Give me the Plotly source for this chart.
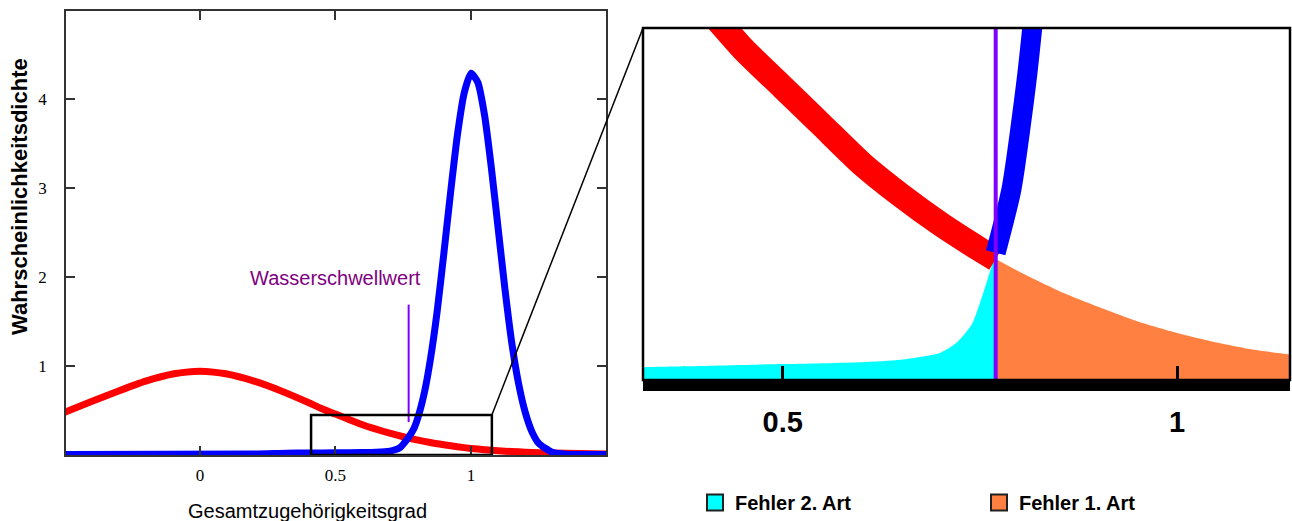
import plotly.graph_objects as go

# water threshold on the membership axis
threshold = 0.77

# red density (non-water class)
x_red = [-0.5, -0.4, -0.3, -0.2, -0.1, 0.0, 0.1, 0.2, 0.3, 0.4, 0.45, 0.5, 0.55, 0.6, 0.65,
         0.7, 0.75, 0.77, 0.8, 0.85, 0.9, 0.95, 1.0, 1.05, 1.1, 1.15, 1.2, 1.3, 1.4, 1.5]
y_red = [0.48, 0.60, 0.72, 0.83, 0.91, 0.94, 0.91, 0.83, 0.72, 0.59, 0.52, 0.46, 0.40, 0.34, 0.29,
         0.245, 0.205, 0.19, 0.17, 0.14, 0.115, 0.092, 0.074, 0.059, 0.047, 0.039, 0.032, 0.022, 0.016, 0.012]

# blue density (water class)
x_blue = [-0.5, 0.2, 0.32, 0.4, 0.5, 0.6, 0.65, 0.7, 0.72, 0.74, 0.755, 0.77, 0.79, 0.81, 0.83,
          0.85, 0.875, 0.9, 0.925, 0.95, 0.975, 1.0, 1.025, 1.05, 1.075, 1.1, 1.125, 1.15, 1.175,
          1.2, 1.225, 1.25, 1.3, 1.35, 1.5]
y_blue = [0.005, 0.01, 0.02, 0.022, 0.025, 0.028, 0.032, 0.043, 0.058, 0.088, 0.14, 0.20, 0.30, 0.48, 0.73,
          1.07, 1.61, 2.27, 2.96, 3.60, 4.07, 4.29, 4.19, 3.82, 3.23, 2.55, 1.87, 1.27, 0.81,
          0.48, 0.26, 0.13, 0.03, 0.008, 0.005]

marker_y = [0.37, 1.69]          # short threshold marker in the overview
label_xy = [0.5, 1.99]           # "Wasserschwellwert"
zoom_box_x = [0.41, 1.077]
zoom_box_y = [0.0, 0.45]
left_range_x = [-0.494, 1.498]
left_range_y = [0.0, 4.99]
zoom_range_x = [0.323, 1.143]
zoom_range_y = [0.0, 0.553]
left_ticks_x = [0, 0.5, 1]
left_ticks_y = [1, 2, 3, 4]
zoom_ticks_x = [0.5, 1]

W, H = 1292, 521


def fx(p):
    return p / W


def fy(p):
    return 1 - p / H


left_dom_x = [fx(66), fx(606)]
left_dom_y = [fy(455), fy(11)]
right_dom_x = [fx(643), fx(1290)]
right_dom_y = [fy(380), fy(28)]

RED = '#ff0000'
BLUE = '#0000ff'
CYAN = '#00ffff'
ORANGE = '#ff8040'
VIOLET = '#8000ff'
sans = 'Liberation Sans, Arial, sans-serif'
serif = 'Liberation Serif, Times New Roman, serif'

left_x = [(x, y) for x, y in zip(x_blue, y_blue) if x <= threshold]
right_x_red = [(x, y) for x, y in zip(x_red, y_red) if x >= threshold]
left_x_red = [(x, y) for x, y in zip(x_red, y_red) if x <= threshold]
right_x_blue = [(x, y) for x, y in zip(x_blue, y_blue) if x >= threshold]

fig = go.Figure()

# overview
fig.add_trace(go.Scatter(x=x_red, y=y_red, mode='lines', line=dict(color=RED, width=7, shape='spline', smoothing=0.6),
                         xaxis='x', yaxis='y', showlegend=False))
fig.add_trace(go.Scatter(x=x_blue, y=y_blue, mode='lines', line=dict(color=BLUE, width=7, shape='spline', smoothing=0.6),
                         xaxis='x', yaxis='y', showlegend=False))
fig.add_trace(go.Scatter(x=[threshold, threshold], y=marker_y, mode='lines', line=dict(color=VIOLET, width=2),
                         xaxis='x', yaxis='y', showlegend=False))

# zoomed view
fig.add_trace(go.Scatter(x=[p[0] for p in left_x], y=[p[1] for p in left_x], mode='lines', fill='tozeroy',
                         fillcolor=CYAN, line=dict(width=0, shape='spline', smoothing=0.6),
                         xaxis='x2', yaxis='y2', showlegend=False))
fig.add_trace(go.Scatter(x=[p[0] for p in right_x_red], y=[p[1] for p in right_x_red], mode='lines', fill='tozeroy',
                         fillcolor=ORANGE, line=dict(width=0, shape='spline', smoothing=0.6),
                         xaxis='x2', yaxis='y2', showlegend=False))
fig.add_trace(go.Scatter(x=[p[0] for p in left_x_red], y=[p[1] for p in left_x_red], mode='lines',
                         line=dict(color=RED, width=25, shape='spline', smoothing=0.6),
                         xaxis='x2', yaxis='y2', showlegend=False))
fig.add_trace(go.Scatter(x=[p[0] for p in right_x_blue], y=[p[1] for p in right_x_blue], mode='lines',
                         line=dict(color=BLUE, width=20, shape='spline', smoothing=0.6),
                         xaxis='x2', yaxis='y2', showlegend=False))
fig.add_trace(go.Scatter(x=[threshold, threshold], y=zoom_range_y, mode='lines', line=dict(color=VIOLET, width=4),
                         xaxis='x2', yaxis='y2', showlegend=False))

# legend entries
fig.add_trace(go.Scatter(x=[None], y=[None], mode='markers', name='Fehler 2. Art',
                         marker=dict(symbol='square', size=22, color=CYAN, line=dict(color='#202020', width=2)),
                         xaxis='x2', yaxis='y2'))
fig.add_trace(go.Scatter(x=[None], y=[None], mode='markers', name='Fehler 1. Art',
                         marker=dict(symbol='square', size=22, color=ORANGE, line=dict(color='#202020', width=2)),
                         xaxis='x2', yaxis='y2'))

# zoom box and connector
fig.add_shape(type='rect', xref='x', yref='y', x0=zoom_box_x[0], x1=zoom_box_x[1], y0=zoom_box_y[0], y1=zoom_box_y[1],
              line=dict(color='black', width=2.5))
px = left_dom_x[0] + (zoom_box_x[1] - left_range_x[0]) / (left_range_x[1] - left_range_x[0]) * (left_dom_x[1] - left_dom_x[0])
py = left_dom_y[0] + (zoom_box_y[1] - left_range_y[0]) / (left_range_y[1] - left_range_y[0]) * (left_dom_y[1] - left_dom_y[0])
fig.add_shape(type='line', xref='paper', yref='paper', x0=px, y0=py, x1=right_dom_x[0], y1=right_dom_y[1],
              line=dict(color='black', width=1.5))
fig.add_shape(type='rect', xref='x2 domain', yref='y2 domain', x0=0, x1=1, y0=0, y1=1,
              line=dict(color='black', width=2.5))

fig.add_annotation(x=label_xy[0], y=label_xy[1], xref='x', yref='y', text='Wasserschwellwert', showarrow=False,
                   font=dict(family=sans, size=20, color='#800080'))
fig.add_annotation(x=fx(19), y=fy(197), xref='paper', yref='paper', text='<b>Wahrscheinlichkeitsdichte</b>',
                   xanchor='center', yanchor='middle',
                   textangle=-90, showarrow=False, font=dict(family=sans, size=22, color='black'))
fig.add_annotation(x=fx(307), y=fy(511), xref='paper', yref='paper', text='Gesamtzugehörigkeitsgrad',
                   xanchor='center', yanchor='middle',
                   showarrow=False, font=dict(family=sans, size=20, color='black'))

axis_common = dict(showgrid=False, zeroline=False)
fig.update_layout(
    width=W, height=H, margin=dict(l=0, r=0, t=0, b=0, autoexpand=False),
    paper_bgcolor='white', plot_bgcolor='white',
    xaxis=dict(domain=left_dom_x, range=left_range_x, anchor='y', tickvals=left_ticks_x, ticktext=['0', '0.5', '1'],
               ticks='inside', ticklen=9, tickwidth=1.5, tickcolor='#333', showline=True, linecolor='#333',
               linewidth=1.5, mirror='ticks', ticklabelstandoff=4,
               tickfont=dict(family=serif, size=17, color='black'), **axis_common),
    yaxis=dict(domain=left_dom_y, range=left_range_y, anchor='x', tickvals=left_ticks_y,
               ticks='inside', ticklen=9, tickwidth=1.5, tickcolor='#333', showline=True, linecolor='#333',
               linewidth=1.5, mirror='ticks', ticklabelstandoff=14,
               tickfont=dict(family=serif, size=17, color='black'), **axis_common),
    xaxis2=dict(domain=right_dom_x, range=zoom_range_x, anchor='y2', tickvals=zoom_ticks_x, ticktext=['0.5', '1'],
                ticks='inside', ticklen=14, tickwidth=3, tickcolor='black', showline=True, linecolor='black',
                linewidth=11, ticklabelstandoff=6,
                tickfont=dict(family=sans, size=29, color='black', weight='bold'), **axis_common),
    yaxis2=dict(domain=right_dom_y, range=zoom_range_y, anchor='x2', showticklabels=False, ticks='',
                showline=False, **axis_common),
    legend=dict(orientation='h', x=695 / W, y=1 - 483 / H, xanchor='left', yanchor='top',
                entrywidth=239, entrywidthmode='pixels', itemsizing='trace',
                font=dict(family=sans, size=20, color='black', weight='bold'), bgcolor='rgba(0,0,0,0)'),
)

# drop the default page margin so the figure fills the window exactly
fig.write_html('out.html', config={'displayModeBar': False},
               post_script="document.body.style.margin='0';document.body.style.overflow='hidden';")
